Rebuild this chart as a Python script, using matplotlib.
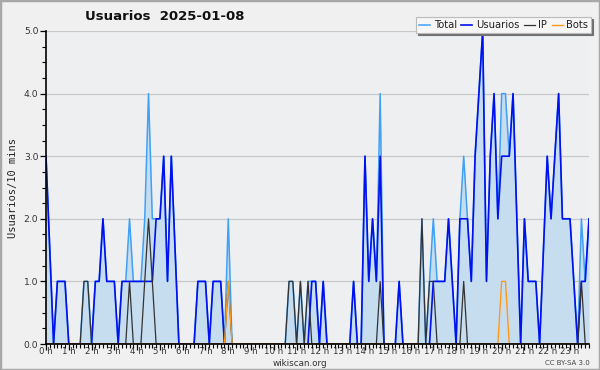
import numpy as np
import matplotlib
matplotlib.use("Agg")
import matplotlib.pyplot as plt
from matplotlib.patches import Rectangle
from matplotlib.ticker import MultipleLocator

# values per 10-minute bin, one row per hour
usuarios = [
    3, 1.5, 0, 1, 1, 1,
    0, 0, 0, 0, 0, 0,
    0, 1, 1, 2, 1, 1,
    1, 0, 1, 1, 1, 1,
    1, 1, 1, 1, 1, 2,
    2, 3, 1, 3, 1.5, 0,
    0, 0, 0, 0, 1, 1,
    1, 0, 1, 1, 1, 0,
    0, 0, 0, 0, 0, 0,
    0, 0, 0, 0, 0, 0,
    0, 0, 0, 0, 0, 0,
    0, 0, 0, 0, 1, 1,
    0, 1, 0, 0, 0, 0,
    0, 0, 0, 1, 0, 0,
    3, 1, 2, 1, 3, 0,
    0, 0, 0, 1, 0, 0,
    0, 0, 0, 0, 0, 0,
    1, 1, 1, 1, 2, 1,
    0, 2, 2, 2, 1, 3,
    4, 5, 1, 3, 4, 2,
    3, 3, 3, 4, 2, 0,
    2, 1, 1, 1, 0, 1.5,
    3, 2, 3, 4, 2, 2,
    2, 1, 0, 1, 1, 2,
]
ip = [
    0, 0, 0, 0, 0, 0,
    0, 0, 0, 0, 1, 1,
    0, 0, 0, 0, 0, 0,
    0, 0, 0, 0, 1, 0,
    0, 0, 1, 2, 1, 0,
    0, 0, 0, 0, 0, 0,
    0, 0, 0, 0, 0, 0,
    0, 0, 0, 0, 0, 0,
    1, 0, 0, 0, 0, 0,
    0, 0, 0, 0, 0, 0,
    0, 0, 0, 0, 1, 1,
    0, 1, 0, 1, 0, 0,
    0, 0, 0, 0, 0, 0,
    0, 0, 0, 0, 0, 0,
    0, 0, 0, 0, 1, 0,
    0, 0, 0, 0, 0, 0,
    0, 0, 0, 2, 0, 1,
    1, 0, 0, 0, 0, 0,
    0, 0, 1, 0, 0, 0,
    0, 0, 0, 0, 0, 0,
    0, 0, 0, 0, 0, 0,
    0, 0, 0, 0, 0, 0,
    0, 0, 0, 0, 0, 0,
    0, 0, 0, 1, 0, 0,
]
bots = [0] * 144
bots[48] = 1
bots[120] = 1
bots[121] = 1
total = [
    3, 1.5, 0, 1, 1, 1,
    0, 0, 0, 0, 1, 1,
    0, 1, 1, 2, 1, 1,
    1, 0, 1, 1, 2, 1,
    1, 1, 2, 4, 2, 2,
    2, 3, 1, 3, 1.5, 0,
    0, 0, 0, 0, 1, 1,
    1, 0, 1, 1, 1, 0,
    2, 0, 0, 0, 0, 0,
    0, 0, 0, 0, 0, 0,
    0, 0, 0, 0, 1, 1,
    0, 1, 0, 1, 1, 1,
    0, 1, 0, 0, 0, 0,
    0, 0, 0, 1, 0, 0,
    3, 1, 2, 1, 4, 0,
    0, 0, 0, 1, 0, 0,
    0, 0, 0, 2, 0, 1,
    2, 1, 1, 1, 2, 1,
    0, 2, 3, 2, 1, 3,
    4, 5, 1, 3, 4, 2,
    4, 4, 3, 4, 2, 0,
    2, 1, 1, 1, 0, 1.5,
    3, 2, 3, 4, 2, 2,
    2, 1, 0, 2, 1, 2,
]
hour_labels = [f"{h} h" for h in range(24)]

x = np.arange(len(total)) / 6.0

fig = plt.figure(figsize=(6, 3.7), dpi=100, facecolor="#f0f0f0")
ax = fig.add_axes([46 / 600, 1 - 344 / 370, (589 - 46) / 600, (344 - 31) / 370])
ax.set_facecolor("#eeeff1")

ax.fill_between(x, total, 0, color="#c6dcef", lw=0, zorder=1)
l_total, = ax.plot(x, total, color="#3fa0f5", lw=1.1, zorder=3, label="Total")
l_usr, = ax.plot(x, usuarios, color="#0010ee", lw=1.2, zorder=4, label="Usuarios")
l_ip, = ax.plot(x, ip, color="#333333", lw=0.9, zorder=5, label="IP")
l_bots, = ax.plot(x, bots, color="#ff9a1a", lw=1.0, zorder=6, label="Bots")

ax.set_xlim(0, x[-1])
ax.set_ylim(0, 5)
for v in range(1, 6):
    ax.axhline(v, color="#c8c8c8", lw=0.9, zorder=0)

ax.set_xticks(range(24))
ax.set_xticklabels(hour_labels)
ax.xaxis.set_minor_locator(MultipleLocator(1 / 6))
ax.yaxis.set_major_locator(MultipleLocator(1))
ax.yaxis.set_minor_locator(MultipleLocator(0.25))
ax.yaxis.set_major_formatter(matplotlib.ticker.FormatStrFormatter("%.1f"))
ax.tick_params(axis="both", which="major", length=4, width=0.9,
               pad=1.5, colors="#000000", labelcolor="#333333")
ax.tick_params(axis="x", which="major", labelsize=6.2, pad=-1.5)
ax.tick_params(axis="y", which="major", labelsize=6.6)
ax.tick_params(axis="x", which="minor", length=3, width=0.8)
ax.tick_params(axis="y", which="minor", length=3, width=0.8)

for s in ["top", "right"]:
    ax.spines[s].set_visible(False)
for s in ["left", "bottom"]:
    ax.spines[s].set_linewidth(1.2)
    ax.spines[s].set_zorder(7)

ax.set_ylabel("Usuarios/10 mins", family="DejaVu Sans Mono", fontsize=7.5,
              color="#222222", labelpad=4)

fig.text(85 / 600, 1 - 17 / 370, "Usuarios  2025-01-08", fontsize=9.5,
         fontweight="bold", ha="left", va="center", color="#111111")
fig.text(300 / 600, 1 - 363 / 370, "wikiscan.org", fontsize=6.3,
         ha="center", va="center", color="#333333")
fig.text(590 / 600, 1 - 363 / 370, "CC BY-SA 3.0", fontsize=5,
         ha="right", va="center", color="#444444")

leg = fig.legend(handles=[l_total, l_usr, l_ip, l_bots], loc="upper right",
                 bbox_to_anchor=(591 / 600, 1 - 17 / 370), ncol=4, fontsize=7.2,
                 frameon=True, fancybox=False,
                 shadow={"color": "#707070", "alpha": 1, "ox": 1.5, "oy": -1.5},
                 handlelength=1.1, handletextpad=0.35, columnspacing=0.45,
                 borderpad=0.3, borderaxespad=0)
leg.get_frame().set_facecolor("#f6f6f6")
leg.get_frame().set_edgecolor("#bbbbbb")
leg.get_frame().set_linewidth(0.8)
for t in leg.get_texts():
    t.set_color("#222222")

fig.patches.append(Rectangle((0, 0), 1, 1, transform=fig.transFigure, fill=False,
                             edgecolor="#a8a8a8", lw=2.5))

fig.savefig("out.png", dpi=100, facecolor=fig.get_facecolor())
